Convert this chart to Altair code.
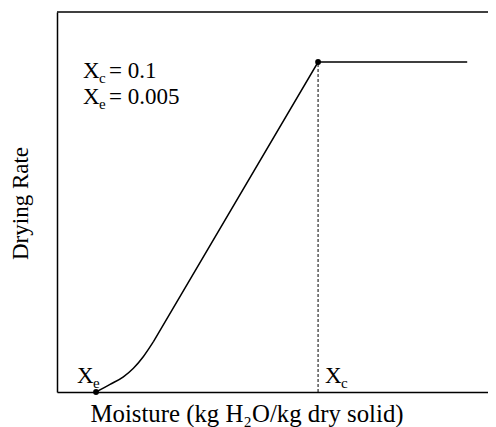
import altair as alt
import pandas as pd

# Drying-rate curve (moisture content X, drying rate relative to constant rate)
moisture = [0.005, 0.011, 0.0167, 0.021, 0.0252, 0.0295, 0.1, 0.1638]
rate = [0.0, 0.023, 0.046, 0.072, 0.107, 0.152, 1.0, 1.0]
N_CURVED = 6  # first points form the curved falling-rate start

# Key points: Xe and Xc
key_x = [0.005, 0.1]
key_rate = [0.0, 1.0]

# Annotation anchors (data units)
label_x = [-0.0006, -0.0006, -0.0031, 0.103]
label_y = [0.9515, 0.873, 0.027, 0.027]
label_main = ["X", "X", "X", "X"]
label_sub = ["c", "e", "e", "c"]
value_text = ["= 0.1", "= 0.005"]

X_DOMAIN = [-0.0117, 0.1727]
Y_DOMAIN = [0.0, 1.1515]

FONT = "Liberation Serif"

df = pd.DataFrame({"x": moisture, "y": rate})
curve_df = df.iloc[:N_CURVED]
straight_df = df.iloc[N_CURVED - 1:]
key_df = pd.DataFrame({"x": key_x, "y": key_rate})
xc_df = pd.DataFrame({"x": [key_x[1]], "y": [0.0], "y2": [key_rate[1]]})
frame_df = pd.DataFrame({"x": [X_DOMAIN[0]], "x2": [X_DOMAIN[1]], "y": [Y_DOMAIN[1]]})
lab_df = pd.DataFrame({"x": label_x, "y": label_y, "main": label_main, "sub": label_sub})
val_df = pd.DataFrame({"x": label_x[:2], "y": label_y[:2], "t": value_text})

xscale = alt.Scale(domain=X_DOMAIN, nice=False, zero=False)
yscale = alt.Scale(domain=Y_DOMAIN, nice=False, zero=False)

x_axis = alt.Axis(
    title="Moisture (kg H₂O/kg dry solid)", labels=False, ticks=False, grid=False,
    domainColor="black", domainWidth=1.5, titleFont=FONT, titleFontSize=24.8,
    titleFontWeight="normal", titleColor="black", titleX=189.5, titleY=29,
    titleBaseline="alphabetic", titleAlign="center",
)
y_axis = alt.Axis(
    title="Drying Rate", labels=False, ticks=False, grid=False,
    domainColor="black", domainWidth=1.5, titleFont=FONT, titleFontSize=23,
    titleFontWeight="normal", titleColor="black", titleX=-37, titleY=191,
    titleBaseline="middle", titleAlign="center", titleAngle=270,
)

base_x = alt.X("x:Q", scale=xscale, axis=x_axis)
base_y = alt.Y("y:Q", scale=yscale, axis=y_axis)

curve = alt.Chart(curve_df).mark_line(
    color="black", strokeWidth=1.5, interpolate="monotone"
).encode(x=base_x, y=base_y)

straight = alt.Chart(straight_df).mark_line(
    color="black", strokeWidth=1.5
).encode(x="x:Q", y="y:Q")

dashed = alt.Chart(xc_df).mark_rule(
    color="black", strokeWidth=1, strokeDash=[3, 2]
).encode(x="x:Q", y="y:Q", y2="y2:Q")

frame = alt.Chart(frame_df).mark_rule(color="black", strokeWidth=1.5).encode(
    x="x:Q", x2="x2:Q", y="y:Q"
)

points = alt.Chart(key_df).mark_point(
    filled=True, color="black", size=34, opacity=1
).encode(x="x:Q", y="y:Q")

main_txt = alt.Chart(lab_df).mark_text(
    font=FONT, fontSize=23, align="left", baseline="alphabetic", color="black"
).encode(x="x:Q", y="y:Q", text="main:N")

sub_txt = alt.Chart(lab_df).mark_text(
    font=FONT, fontSize=15, align="left", baseline="alphabetic", color="black",
    dx=16, dy=5,
).encode(x="x:Q", y="y:Q", text="sub:N")

val_txt = alt.Chart(val_df).mark_text(
    font=FONT, fontSize=23, align="left", baseline="alphabetic", color="black",
    dx=26,
).encode(x="x:Q", y="y:Q", text="t:N")

chart = alt.layer(
    curve, straight, dashed, frame, points, main_txt, sub_txt, val_txt
).properties(
    width=431, height=380,
    autosize=alt.AutoSizeParams(type="none"),
    padding={"left": 49, "top": 4, "right": 0, "bottom": 35},
).configure_view(stroke=None)

chart.save("out.html", embed_options={"renderer": "svg", "actions": False})
